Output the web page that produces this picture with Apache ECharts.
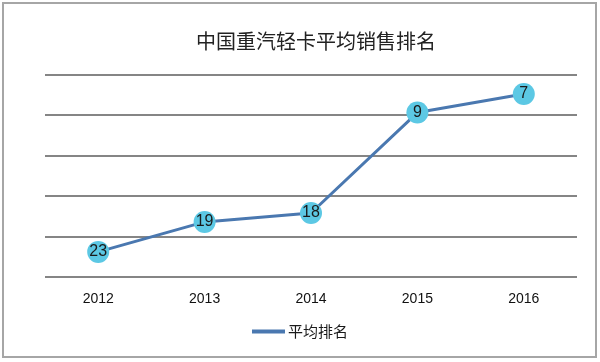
<!DOCTYPE html>
<html>
<head>
<meta charset="utf-8">
<script src="https://cdn.jsdelivr.net/npm/echarts@6/dist/echarts.min.js"></script>
<style>
html,body{margin:0;padding:0;background:#fff;}
#c{width:600px;height:362px;}
</style>
</head>
<body>
<div id="c"></div>
<script>
// Data
var titleText = '中国重汽轻卡平均销售排名';
var seriesName = '平均排名';
var years = ['2012', '2013', '2014', '2015', '2016'];
// rank shown in each marker
var ranks = [23, 19, 18, 9, 7];
// vertical position of each point (axis 0..25, no labels)
var plotted = [3.1, 6.8, 7.9, 20.3, 22.6];

var chart = echarts.init(document.getElementById('c'), null, {renderer: 'canvas'});
var cjk = '"Noto Sans CJK SC", "Microsoft YaHei", sans-serif';
var lineColor = '#4a78b0';
chart.setOption({
  animation: false,
  backgroundColor: '#ffffff',
  title: {
    text: titleText,
    left: 311, top: 26, textAlign: 'center',
    textStyle: {fontFamily: cjk, fontSize: 20, fontWeight: 'normal', color: '#222'}
  },
  legend: {
    data: [seriesName],
    bottom: 18, left: 'center',
    itemWidth: 33, itemHeight: 4, itemGap: 4,
    icon: 'rect',
    itemStyle: {color: lineColor},
    textStyle: {fontFamily: cjk, fontSize: 15, color: '#1a1a1a', padding: [0,0,0,-2]}
  },
  grid: {left: 45, right: 23, top: 74.5, bottom: 85, containLabel: false},
  xAxis: {
    type: 'category',
    data: years,
    boundaryGap: true,
    axisLine: {show: false},
    axisTick: {show: false},
    axisLabel: {fontFamily: '"Liberation Sans", Arial, sans-serif', fontSize: 14, color: '#111', margin: 15}
  },
  yAxis: {
    type: 'value',
    min: 0, max: 25, interval: 5,
    axisLabel: {show: false},
    axisLine: {show: false},
    axisTick: {show: false},
    splitLine: {lineStyle: {color: '#858585', width: 1.8}}
  },
  series: [{
    name: seriesName,
    type: 'line',
    data: plotted,
    symbol: 'circle',
    symbolSize: 22,
    lineStyle: {color: lineColor, width: 3},
    itemStyle: {color: '#5cc8e4', borderWidth: 0},
    label: {
      show: true, position: 'inside',
      fontFamily: '"Liberation Sans", Arial, sans-serif', fontSize: 16, color: '#1a1a1a',
      formatter: function (p) { return ranks[p.dataIndex]; }
    }
  }],
  graphic: [{
    type: 'rect',
    shape: {x: 3, y: 3, width: 593, height: 354},
    style: {fill: null, stroke: '#a6a6a6', lineWidth: 2},
    silent: true, z: -1
  }]
});
</script>
</body>
</html>
